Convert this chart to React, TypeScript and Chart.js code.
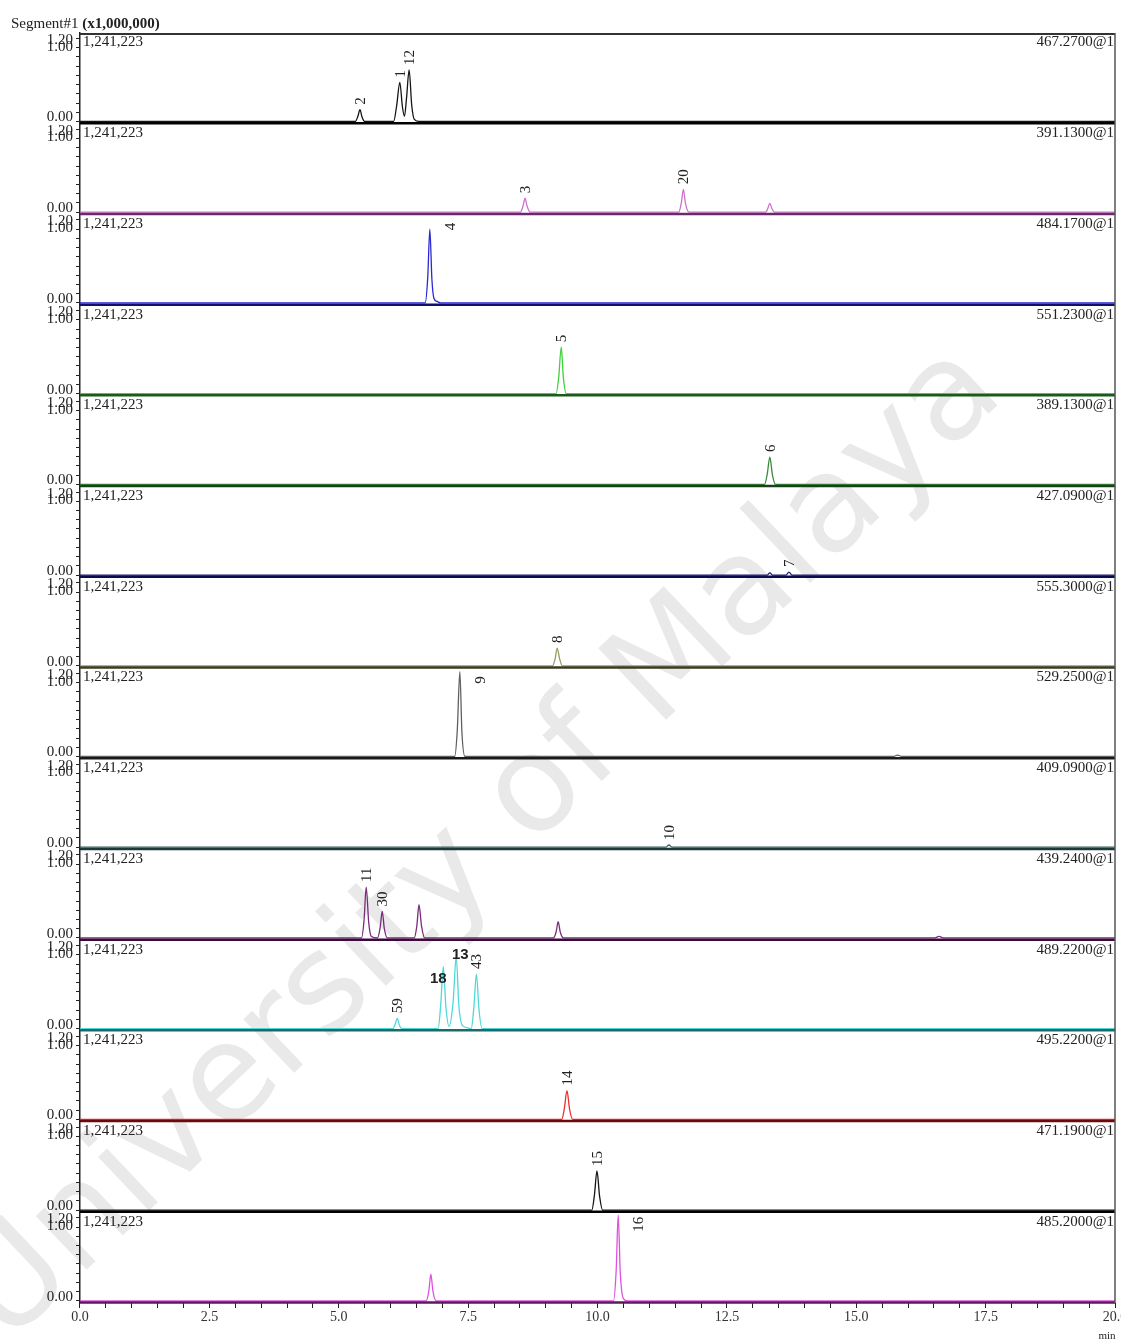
import React, { useEffect, useRef } from "react";
import { Chart, registerables } from "chart.js";

Chart.register(...registerables);

// ---------------- data ----------------
const TITLE_PLAIN = "Segment#1 ";
const TITLE_BOLD = "(x1,000,000)";
const X_UNIT = "min";
const INTENSITY = "1,241,223";
const WATERMARK = "University of Malaya";

const CHANNELS = [
  "467.2700@1", "391.1300@1", "484.1700@1", "551.2300@1", "389.1300@1",
  "427.0900@1", "555.3000@1", "529.2500@1", "409.0900@1", "439.2400@1",
  "489.2200@1", "495.2200@1", "471.1900@1", "485.2000@1",
];

const X_TICKS = [
  0, 0.5, 1, 1.5, 2, 2.5, 3, 3.5, 4, 4.5, 5, 5.5, 6, 6.5, 7, 7.5, 8, 8.5, 9, 9.5, 10,
  10.5, 11, 11.5, 12, 12.5, 13, 13.5, 14, 14.5, 15, 15.5, 16, 16.5, 17, 17.5, 18, 18.5, 19, 19.5, 20,
];
const X_LABELED = [0, 2.5, 5, 7.5, 10, 12.5, 15, 17.5, 20];
const Y_TICKS = [0, 0.125, 0.25, 0.375, 0.5, 0.625, 0.75, 0.875, 1.0, 1.125];
const Y_LABEL_VALUES = [1.2, 1.0, 0.0];
const Y_LABEL_TEXTS = ["1.20", "1.00", "0.00"];

// traces: [time (min), intensity (x1,241,223 normalised)]
const trace467: [number, number][] = [
  [0, 0], [5.32, 0], [5.37, 0.07], [5.41, 0.16], [5.45, 0.06], [5.5, 0],
  [6.06, 0], [6.12, 0.22], [6.18, 0.53], [6.23, 0.2], [6.27, 0.07], [6.31, 0.32],
  [6.36, 0.7], [6.41, 0.22], [6.46, 0.03], [6.56, 0], [20, 0],
];
const trace391: [number, number][] = [
  [0, 0], [8.51, 0], [8.56, 0.08], [8.6, 0.19], [8.64, 0.08], [8.7, 0],
  [11.57, 0], [11.62, 0.13], [11.66, 0.31], [11.7, 0.12], [11.77, 0],
  [13.25, 0], [13.29, 0.05], [13.33, 0.12], [13.37, 0.05], [13.42, 0], [20, 0],
];
const trace484: [number, number][] = [
  [0, 0], [6.67, 0], [6.72, 0.35], [6.76, 1.0], [6.8, 0.32], [6.84, 0.06], [6.9, 0.02], [6.97, 0], [20, 0],
];
const trace551: [number, number][] = [
  [0, 0], [9.2, 0], [9.25, 0.22], [9.3, 0.63], [9.34, 0.22], [9.4, 0], [20, 0],
];
const trace389: [number, number][] = [
  [0, 0], [13.23, 0], [13.28, 0.14], [13.33, 0.37], [13.38, 0.13], [13.44, 0], [20, 0],
];
const trace427: [number, number][] = [
  [0, 0], [13.28, 0], [13.33, 0.03], [13.38, 0], [13.64, 0], [13.7, 0.04], [13.76, 0], [20, 0],
];
const trace555: [number, number][] = [
  [0, 0], [9.13, 0], [9.18, 0.09], [9.22, 0.24], [9.27, 0.09], [9.32, 0], [20, 0],
];
const trace529: [number, number][] = [
  [0, 0], [7.24, 0], [7.29, 0.35], [7.34, 1.15], [7.38, 0.33], [7.44, 0],
  [15.72, 0], [15.8, 0.02], [15.88, 0], [20, 0],
];
const trace409: [number, number][] = [
  [0, 0], [11.32, 0], [11.38, 0.03], [11.44, 0], [20, 0],
];
const trace439: [number, number][] = [
  [0, 0], [5.44, 0], [5.49, 0.25], [5.53, 0.69], [5.58, 0.2], [5.63, 0.02],
  [5.75, 0], [5.8, 0.14], [5.84, 0.36], [5.88, 0.13], [5.94, 0],
  [6.46, 0], [6.51, 0.17], [6.55, 0.45], [6.6, 0.16], [6.66, 0],
  [9.15, 0], [9.2, 0.08], [9.24, 0.22], [9.28, 0.08], [9.34, 0],
  [16.52, 0], [16.6, 0.02], [16.68, 0], [20, 0],
];
const trace489: [number, number][] = [
  [0, 0], [6.05, 0], [6.09, 0.06], [6.13, 0.14], [6.17, 0.05], [6.22, 0],
  [6.92, 0], [6.97, 0.32], [7.02, 0.84], [7.07, 0.3], [7.13, 0.03],
  [7.21, 0.36], [7.27, 0.98], [7.32, 0.32], [7.39, 0.04], [7.5, 0.01],
  [7.56, 0], [7.61, 0.28], [7.66, 0.74], [7.71, 0.26], [7.77, 0], [20, 0],
];
const trace495: [number, number][] = [
  [0, 0], [9.31, 0], [9.36, 0.15], [9.41, 0.39], [9.46, 0.14], [9.52, 0], [20, 0],
];
const trace471: [number, number][] = [
  [0, 0], [9.89, 0], [9.94, 0.2], [9.99, 0.53], [10.04, 0.19], [10.1, 0], [20, 0],
];
const trace485: [number, number][] = [
  [0, 0], [6.69, 0], [6.74, 0.13], [6.78, 0.36], [6.82, 0.13], [6.88, 0],
  [10.31, 0], [10.36, 0.4], [10.4, 1.16], [10.44, 0.38], [10.5, 0.03], [10.58, 0], [20, 0],
];

const TRACES = [
  trace467, trace391, trace484, trace551, trace389, trace427, trace555,
  trace529, trace409, trace439, trace489, trace495, trace471, trace485,
];

// peak labels: [panel, time, apex height, text]
const PEAK_LABELS: [number, number, number, string][] = [
  [0, 5.41, 0.16, "2"], [0, 6.18, 0.53, "1"], [0, 6.36, 0.7, "12"],
  [1, 8.6, 0.19, "3"], [1, 11.66, 0.31, "20"],
  [2, 6.76, 1.0, "4"],
  [3, 9.3, 0.63, "5"],
  [4, 13.33, 0.37, "6"],
  [5, 13.7, 0.04, "7"],
  [6, 9.22, 0.24, "8"],
  [7, 7.34, 1.15, "9"],
  [8, 11.38, 0.03, "10"],
  [9, 5.53, 0.69, "11"], [9, 5.84, 0.36, "30"],
  [10, 6.13, 0.14, "59"], [10, 7.02, 0.84, "18"], [10, 7.27, 0.98, "13"], [10, 7.66, 0.74, "43"],
  [11, 9.41, 0.39, "14"],
  [12, 9.99, 0.53, "15"],
  [13, 10.4, 1.16, "16"],
];

// ---------------- styles ----------------
const SERIF = "'Liberation Serif', 'Times New Roman', serif";
const SANS = "'Liberation Sans', Arial, sans-serif";
const TRACE_COLORS = [
  "#151515", "#d070d0", "#2a2ad0", "#40d040", "#3a8a3a", "#1a1a70", "#9a9a60",
  "#606060", "#3a6060", "#7a2a7a", "#50d8d8", "#e83030", "#151515", "#e050e0",
];
const SEP_COLORS = [
  "#000000", "#6a2a6a", "#10106a", "#1a5a1a", "#1a401a", "#0a0a50", "#3a3a20",
  "#1a1a1a", "#1a3a3a", "#3a0a3a", "#1a6a6a", "#6a0a0a", "#000000", "#5a1a5a",
];
const Y_LABEL_SHIFT = [7, -1, -4];
// label placement: default = rotated above apex
const SIDE_LABELS = ["4", "9", "16"];
const BOLD_LABELS: Record<string, [number, number]> = { "18": [-5, 12], "13": [4, -2] };

const overlay = {
  id: "overlay",
  beforeDraw(chart: any) {
    const ctx = chart.ctx;
    ctx.save();
    ctx.translate(482, 846);
    ctx.rotate((-43.5 * Math.PI) / 180);
    ctx.font = `135px 'DejaVu Sans', ${SANS}`;
    ctx.fillStyle = "#e9e9e9";
    ctx.textAlign = "center";
    ctx.textBaseline = "middle";
    ctx.fillText(WATERMARK, 0, 0);
    ctx.restore();
  },
  afterDatasetsDraw(chart: any) {
    const ctx = chart.ctx;
    const area = chart.chartArea;
    const xs = chart.scales.x;
    ctx.save();
    // panel separators
    CHANNELS.forEach((_, i) => {
      const s = chart.scales["y" + i];
      ctx.strokeStyle = SEP_COLORS[i];
      ctx.lineWidth = 2.5;
      ctx.beginPath();
      ctx.moveTo(area.left, s.bottom - 0.5);
      ctx.lineTo(area.right, s.bottom - 0.5);
      ctx.stroke();
    });
    // top frame and right border
    ctx.strokeStyle = "#333";
    ctx.lineWidth = 2;
    ctx.beginPath();
    ctx.moveTo(area.left, area.top + 1);
    ctx.lineTo(area.right, area.top + 1);
    ctx.stroke();
    ctx.lineWidth = 1.5;
    ctx.strokeStyle = "#555";
    ctx.beginPath();
    ctx.moveTo(area.right, area.top);
    ctx.lineTo(area.right, area.bottom);
    ctx.stroke();

    // panel texts
    CHANNELS.forEach((ch, i) => {
      const s = chart.scales["y" + i];
      ctx.fillStyle = "#222";
      ctx.font = `15px ${SERIF}`;
      ctx.textBaseline = "top";
      ctx.textAlign = "left";
      ctx.fillText(INTENSITY, area.left + 3, s.top + 2);
      ctx.textAlign = "right";
      ctx.fillText(ch, area.right - 1, s.top + 2);
      ctx.textBaseline = "middle";
      Y_LABEL_VALUES.forEach((v, k) => {
        ctx.fillText(Y_LABEL_TEXTS[k], area.left - 7, s.getPixelForValue(v) + Y_LABEL_SHIFT[k]);
      });
    });

    // peak labels
    PEAK_LABELS.forEach(([p, t, h, text]) => {
      const s = chart.scales["y" + p];
      const px = xs.getPixelForValue(t);
      const py = s.getPixelForValue(h);
      ctx.fillStyle = "#222";
      if (BOLD_LABELS[text]) {
        const [dx, dy] = BOLD_LABELS[text];
        ctx.font = `bold 15px ${SANS}`;
        ctx.textAlign = "center";
        ctx.textBaseline = "middle";
        ctx.fillText(text, px + dx, py + dy);
        return;
      }
      ctx.font = `15px ${SERIF}`;
      ctx.save();
      if (SIDE_LABELS.includes(text)) {
        ctx.translate(px + 21, s.top + 12);
        ctx.rotate(-Math.PI / 2);
        ctx.textAlign = "center";
      } else {
        ctx.translate(px + 1, py - 5);
        ctx.rotate(-Math.PI / 2);
        ctx.textAlign = "left";
      }
      ctx.textBaseline = "middle";
      ctx.fillText(text, 0, 0);
      ctx.restore();
    });

    // title
    ctx.fillStyle = "#222";
    ctx.textAlign = "left";
    ctx.textBaseline = "alphabetic";
    ctx.font = `15px ${SERIF}`;
    ctx.fillText(TITLE_PLAIN, 11, 28);
    const w = ctx.measureText(TITLE_PLAIN).width;
    ctx.font = `bold 15px ${SERIF}`;
    ctx.fillText(TITLE_BOLD, 11 + w, 28);
    // unit
    ctx.font = `11px ${SERIF}`;
    ctx.textAlign = "center";
    ctx.fillText(X_UNIT, xs.getPixelForValue(20) - 8, 1339);
    ctx.restore();
  },
};

export default function App() {
  const ref = useRef<HTMLCanvasElement>(null);
  useEffect(() => {
    const scales: any = {
      x: {
        type: "linear",
        position: "bottom",
        min: 0,
        max: 20,
        afterBuildTicks: (s: any) => {
          s.ticks = X_TICKS.map((v) => ({ value: v }));
        },
        ticks: {
          autoSkip: false,
          maxRotation: 0,
          padding: 1,
          color: "#333",
          font: { family: SERIF, size: 14 },
          callback: (v: any) => (X_LABELED.includes(v) ? Number(v).toFixed(1) : ""),
        },
        grid: { drawOnChartArea: false, drawTicks: true, tickLength: 5, color: "#222", tickColor: "#222" },
        border: { display: false },
        afterFit: (s: any) => {
          s.height = 41;
          s.paddingLeft = 0;
          s.paddingRight = 0;
        },
      },
    };
    CHANNELS.forEach((_, i) => {
      scales["y" + i] = {
        type: "linear",
        position: "left",
        stack: "panels",
        stackWeight: 1,
        weight: 100 - i,
        min: -0.03,
        max: 1.2,
        afterBuildTicks: (s: any) => {
          s.ticks = Y_TICKS.map((v) => ({ value: v }));
        },
        ticks: { display: false, autoSkip: false },
        grid: { drawOnChartArea: false, drawTicks: true, tickLength: 4, color: "#222", tickColor: "#222" },
        border: { display: true, color: "#222", width: 1.5 },
        afterFit: (s: any) => {
          s.width = 80;
          s.paddingTop = 0;
          s.paddingBottom = 0;
        },
      };
    });
    const datasets = TRACES.map((tr, i) => ({
      data: tr.map(([x, y]) => ({ x, y })),
      yAxisID: "y" + i,
      xAxisID: "x",
      borderColor: TRACE_COLORS[i],
      borderWidth: 1.3,
      pointRadius: 0,
      fill: false,
      cubicInterpolationMode: "monotone" as const,
    }));
    const chart = new Chart(ref.current as HTMLCanvasElement, {
      type: "line",
      data: { datasets },
      options: {
        animation: false,
        responsive: false,
        parsing: false as any,
        layout: { padding: { left: 0, right: 6, top: 33, bottom: 0 } },
        plugins: { legend: { display: false }, tooltip: { enabled: false }, title: { display: false } },
        scales,
      } as any,
      plugins: [overlay],
    });
    return () => chart.destroy();
  }, []);
  return (
    <div style={{ position: "absolute", left: 0, top: 0, width: 1121, height: 1344, background: "#fff" }}>
      <canvas ref={ref} width={1121} height={1344} style={{ display: "block" }} />
    </div>
  );
}
